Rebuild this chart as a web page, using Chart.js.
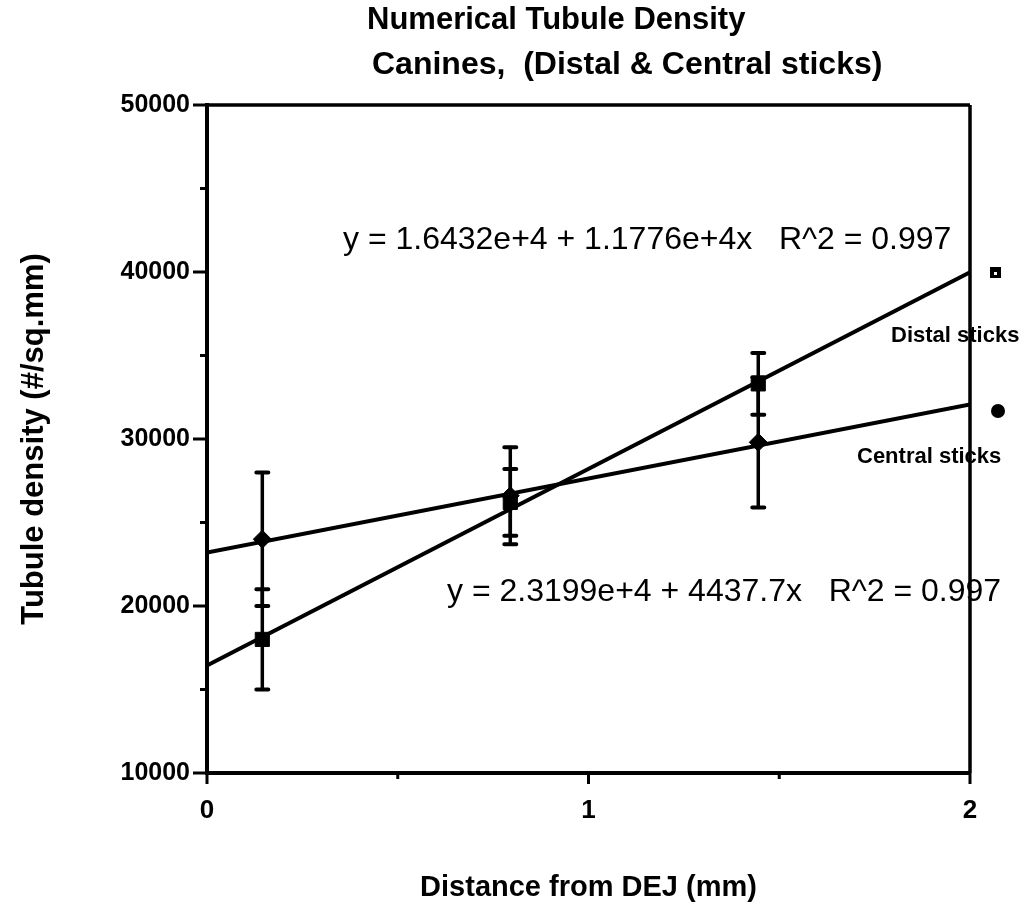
<!DOCTYPE html>
<html>
<head>
<meta charset="utf-8">
<title>Numerical Tubule Density</title>
<script src="https://cdn.jsdelivr.net/npm/chart.js@4.4.1/dist/chart.umd.min.js"></script>
<style>
  body { margin: 0; background: #fff; }
  #wrap { width: 1031px; height: 905px; position: relative; }
</style>
</head>
<body>
<div id="wrap"><canvas id="tubuleChart"></canvas></div>
<script>
// distance from DEJ (mm) of the three sample sites
const distance = [0.145, 0.795, 1.445];
// distal sticks: mean density and +/- error
const distalDensity = [18000, 26200, 33300];
const distalError = [3000, 2000, 1850];
// central sticks
const centralDensity = [24000, 26600, 29800];
const centralError = [4000, 2900, 3900];
// fitted lines, value at x = 0 and x = 2
const fitX = [0, 2];
const distalFit = [16432, 39984];
const centralFit = [23199, 32074];
// axis ticks
const yMajor = [10000, 20000, 30000, 40000, 50000];
const yMinor = [15000, 25000, 35000, 45000];
const xMajor = [0, 1, 2];
const xMinor = [0.5, 1.5];

const FONT = "'Liberation Sans', Arial, Helvetica, sans-serif";
Chart.defaults.font.family = FONT;
Chart.defaults.color = '#000';

const toPoints = (xs, ys) => xs.map((v, i) => ({ x: v, y: ys[i] }));

// error bars with caps
const errorBars = {
  id: 'errorBars',
  afterDatasetsDraw(chart) {
    const { ctx, scales: { x, y } } = chart;
    ctx.save();
    ctx.strokeStyle = '#000';
    ctx.lineCap = 'round';
    [[distalDensity, distalError], [centralDensity, centralError]].forEach(([vals, errs]) => {
      vals.forEach((v, i) => {
        const px = x.getPixelForValue(distance[i]);
        const top = y.getPixelForValue(v + errs[i]);
        const bot = y.getPixelForValue(v - errs[i]);
        ctx.lineWidth = 3.5;
        ctx.beginPath();
        ctx.moveTo(px, top);
        ctx.lineTo(px, bot);
        ctx.stroke();
        ctx.lineWidth = 4;
        ctx.beginPath();
        ctx.moveTo(px - 6, top); ctx.lineTo(px + 6, top);
        ctx.moveTo(px - 6, bot); ctx.lineTo(px + 6, bot);
        ctx.stroke();
      });
    });
    ctx.restore();
  }
};

// box frame + outward tick marks
const frame = {
  id: 'frame',
  afterDraw(chart) {
    const { ctx, chartArea: a, scales: { x, y } } = chart;
    ctx.save();
    ctx.strokeStyle = '#000';
    ctx.lineWidth = 3.5;
    ctx.beginPath();
    ctx.moveTo(a.left, a.top); ctx.lineTo(a.right, a.top);
    ctx.moveTo(a.right, a.top); ctx.lineTo(a.right, a.bottom);
    ctx.stroke();
    ctx.lineWidth = 3;
    ctx.beginPath();
    yMajor.forEach(v => { const p = y.getPixelForValue(v); ctx.moveTo(a.left - 14, p); ctx.lineTo(a.left, p); });
    yMinor.forEach(v => { const p = y.getPixelForValue(v); ctx.moveTo(a.left - 7, p); ctx.lineTo(a.left, p); });
    xMajor.forEach(v => { const p = x.getPixelForValue(v); ctx.moveTo(p, a.bottom); ctx.lineTo(p, a.bottom + 11); });
    xMinor.forEach(v => { const p = x.getPixelForValue(v); ctx.moveTo(p, a.bottom); ctx.lineTo(p, a.bottom + 6); });
    ctx.stroke();
    ctx.restore();
  }
};

// titles, fit equations and the side legend
const labels = {
  id: 'labels',
  afterDraw(chart) {
    const { ctx } = chart;
    ctx.save();
    ctx.fillStyle = '#000';
    ctx.textBaseline = 'middle';
    ctx.textAlign = 'left';
    ctx.font = 'bold 31px ' + FONT;
    ctx.fillText('Numerical Tubule Density', 367, 20);
    ctx.font = 'bold 32px ' + FONT;
    ctx.fillText('Canines,  (Distal & Central sticks)', 372, 65);

    ctx.font = '32px ' + FONT;
    ctx.fillText('y = 1.6432e+4 + 1.1776e+4x   R^2 = 0.997', 343, 240);
    ctx.fillText('y = 2.3199e+4 + 4437.7x   R^2 = 0.997', 447, 592);

    ctx.font = 'bold 22px ' + FONT;
    ctx.fillText('Distal sticks', 891, 336);
    ctx.fillText('Central sticks', 857, 457);

    ctx.fillRect(990, 267, 11, 11);
    ctx.fillStyle = '#fff';
    ctx.fillRect(994, 272, 3, 3);
    ctx.fillStyle = '#000';
    ctx.beginPath();
    ctx.arc(998, 411, 7, 0, Math.PI * 2);
    ctx.fill();
    ctx.restore();
  }
};

new Chart(document.getElementById('tubuleChart'), {
  type: 'scatter',
  data: {
    datasets: [
      {
        label: 'Distal fit',
        data: toPoints(fitX, distalFit),
        showLine: true,
        borderColor: '#000',
        borderWidth: 4,
        pointRadius: 0
      },
      {
        label: 'Central fit',
        data: toPoints(fitX, centralFit),
        showLine: true,
        borderColor: '#000',
        borderWidth: 4,
        pointRadius: 0
      },
      {
        label: 'Distal sticks',
        data: toPoints(distance, distalDensity),
        pointStyle: 'rect',
        pointRadius: 10,
        backgroundColor: '#000',
        borderColor: '#000'
      },
      {
        label: 'Central sticks',
        data: toPoints(distance, centralDensity),
        pointStyle: 'rectRot',
        pointRadius: 9,
        backgroundColor: '#000',
        borderColor: '#000'
      }
    ]
  },
  options: {
    responsive: true,
    maintainAspectRatio: false,
    animation: false,
    layout: { padding: { top: 105, right: 61, left: 0, bottom: 0 } },
    plugins: {
      legend: { display: false },
      tooltip: { enabled: false }
    },
    scales: {
      x: {
        type: 'linear',
        min: 0,
        max: 2,
        afterBuildTicks: s => { s.ticks = xMajor.map(v => ({ value: v })); },
        afterFit: s => { s.height = 132; s.paddingLeft = 0; s.paddingRight = 0; },
        ticks: { font: { size: 26, weight: 'bold' }, padding: 22, callback: v => String(v) },
        grid: { drawOnChartArea: false, drawTicks: false },
        border: { display: true, color: '#000', width: 4 },
        title: {
          display: true,
          text: 'Distance from DEJ (mm)',
          font: { size: 29, weight: 'bold' },
          padding: { top: 0, bottom: 0 }
        }
      },
      y: {
        type: 'linear',
        min: 10000,
        max: 50000,
        afterBuildTicks: s => { s.ticks = yMajor.map(v => ({ value: v })); },
        afterFit: s => { s.width = 207; s.paddingTop = 0; s.paddingBottom = 0; },
        ticks: { font: { size: 25, weight: 'bold' }, padding: 17, callback: v => String(v) },
        grid: { drawOnChartArea: false, drawTicks: false },
        border: { display: true, color: '#000', width: 4 },
        title: {
          display: true,
          text: 'Tubule density (#/sq.mm)',
          font: { size: 31, weight: 'bold' },
          padding: { top: 16, bottom: 0 }
        }
      }
    }
  },
  plugins: [errorBars, frame, labels]
});
</script>
</body>
</html>
